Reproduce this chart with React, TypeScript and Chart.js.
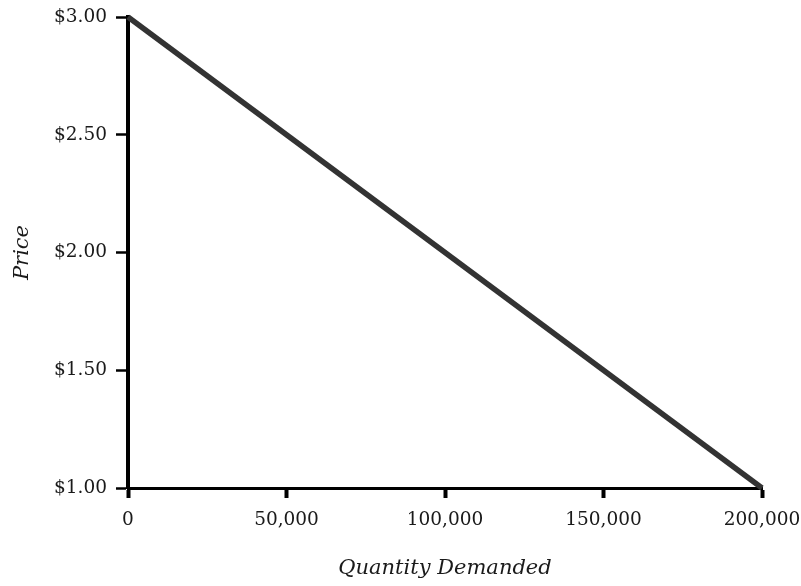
import React, { useEffect, useRef } from "react";
import { Chart, registerables } from "chart.js";

Chart.register(...registerables);

const quantity = [0, 200000];
const price = [3.0, 1.0];
const xTicks = [0, 50000, 100000, 150000, 200000];
const yTicks = [1.0, 1.5, 2.0, 2.5, 3.0];
const xTitle = "Quantity Demanded";
const yTitle = "Price";

const FONT = "'DejaVu Serif', serif";

export default function App() {
  const ref = useRef<HTMLCanvasElement | null>(null);
  useEffect(() => {
    if (!ref.current) return;
    const chart = new Chart(ref.current, {
      type: "scatter",
      data: {
        datasets: [
          {
            data: quantity.map((q, i) => ({ x: q, y: price[i] })),
            showLine: true,
            borderColor: "#333333",
            borderWidth: 5.5,
            pointRadius: 0,
            borderCapStyle: "butt",
            clip: false,
          },
        ],
      },
      options: {
        animation: false,
        responsive: false,
        devicePixelRatio: 1,
        layout: { padding: { top: 17, right: 39, left: 0, bottom: 0 } },
        plugins: { legend: { display: false }, tooltip: { enabled: false } },
        scales: {
          x: {
            type: "linear",
            min: 0,
            max: 200000,
            afterBuildTicks: (axis: any) => {
              axis.ticks = xTicks.map((v) => ({ value: v }));
            },
            afterFit: (axis: any) => {
              axis.height = 98;
              axis.paddingLeft = 0;
              axis.paddingRight = 0;
            },
            border: { display: true, color: "#000", width: 3 },
            grid: {
              display: true,
              drawOnChartArea: false,
              drawTicks: true,
              tickLength: 10,
              tickWidth: 4,
              tickColor: "#000",
            },
            ticks: {
              color: "#1a1a1a",
              font: { family: FONT, size: 18.5 },
              padding: 11,
              maxRotation: 0,
              callback: (v: any) => Number(v).toLocaleString("en-US"),
            },
            title: {
              display: true,
              text: xTitle,
              color: "#1a1a1a",
              font: { family: FONT, size: 21, style: "italic" },
              padding: { top: 0, bottom: 5 },
            },
          },
          y: {
            type: "linear",
            min: 1,
            max: 3,
            afterBuildTicks: (axis: any) => {
              axis.ticks = yTicks.map((v) => ({ value: v }));
            },
            afterFit: (axis: any) => {
              axis.width = 128;
              axis.paddingTop = 0;
              axis.paddingBottom = 0;
            },
            border: { display: true, color: "#000", width: 4 },
            grid: {
              display: true,
              drawOnChartArea: false,
              drawTicks: true,
              tickLength: 12,
              tickWidth: 2.5,
              tickColor: "#000",
            },
            ticks: {
              color: "#1a1a1a",
              font: { family: FONT, size: 18.5 },
              padding: 9,
              callback: (v: any) => "$" + Number(v).toFixed(2),
            },
            title: {
              display: true,
              text: yTitle,
              color: "#1a1a1a",
              font: { family: FONT, size: 21, style: "italic" },
              padding: { top: 10, bottom: 0 },
            },
          },
        },
      } as any,
    });
    return () => chart.destroy();
  }, []);
  return (
    <div style={{ position: "fixed", left: 0, top: 0, width: 801, height: 586, background: "#fff" }}>
      <canvas ref={ref} width={801} height={586} style={{ width: 801, height: 586 }} />
    </div>
  );
}
